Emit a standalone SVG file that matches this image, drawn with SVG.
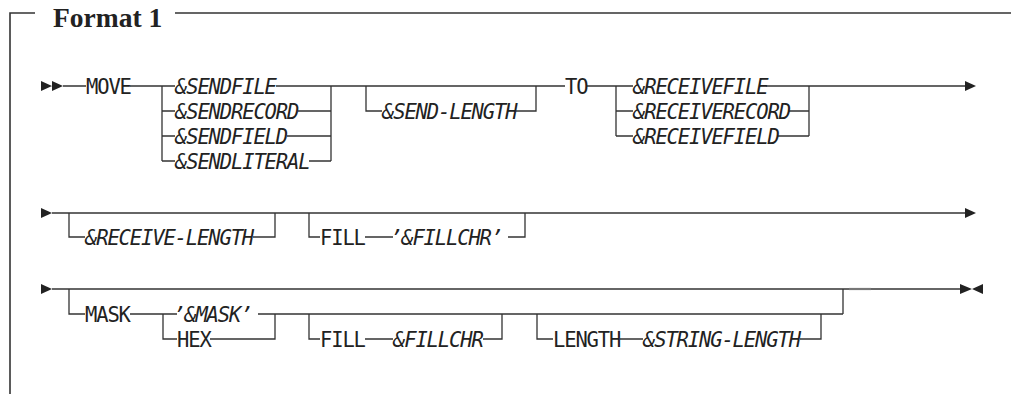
<svg xmlns="http://www.w3.org/2000/svg" width="1011" height="394" viewBox="0 0 1011 394">
<style>
.t{font-family:"DejaVu Sans Mono","Liberation Mono",monospace;font-size:20.5px;letter-spacing:-1.14px;fill:#222}
.i{font-style:italic}
.title{font-family:"Liberation Serif",serif;font-weight:bold;font-size:27.5px;fill:#222}
.ln{fill:none;stroke:#333;stroke-width:1.3}
.fr{fill:none;stroke:#333;stroke-width:1.6}
.mk{fill:#222}
</style>
<rect width="1011" height="394" fill="#fff"/>
<g id="frame">
<path class="fr" d="M10,394 V13 H35 M175,13 H1011"/>
<text class="title" x="53" y="27">Format 1</text>
</g>
<g id="markers">
<path class="mk" d="M41,81 L52,86 L41,91 Z M52,81 L63,86 L52,91 Z"/>
<path class="mk" d="M965,81 L976,86 L965,91 Z"/>
<path class="mk" d="M41,208 L52,213 L41,218 Z"/>
<path class="mk" d="M965,208 L976,213 L965,218 Z"/>
<path class="mk" d="M41,284 L52,289 L41,294 Z"/>
<path class="mk" d="M960,284 L972,289 L960,294 Z M983,284 L972,289 L983,294 Z"/>
</g>
<g id="connectors">
<path class="ln" d="M63,86 H86 M130,86 H175 M162,86 V161 M162,111 H175 M162,136 H175 M162,161 H175"/>
<path class="ln" d="M276,86 H366 M298,111 H331 M287,136 H331 M309,161 H331 M331,86 V161"/>
<path class="ln" d="M366,86 H565 M366,86 V111 H382 M516,111 H536 V86"/>
<path class="ln" d="M587,86 H633 M616,86 V136 M616,111 H633 M616,136 H633"/>
<path class="ln" d="M766,86 H965 M789,111 H809 M778,136 H809 M809,86 V136"/>
<path class="ln" d="M52,213 H965"/>
<path class="ln" d="M69,213 V237 H85 M253,237 H275 V213"/>
<path class="ln" d="M309,213 V237 H320 M365,237 H393 M508,237 H525 V213"/>
<path class="ln" d="M52,289 H960"/>
<path class="ln" d="M69,289 V314 H85 M130,314 H177 M163,314 V339 H177 M210,339 H275 V314 M258,314 H843 M843,314 V289"/>
<path class="ln" d="M309,314 V339 H320 M365,339 H393 M483,339 H502 V314"/>
<path class="ln" d="M537,314 V339 H553 M620,339 H643 M800,339 H821 V314"/>
<path d="M849,289 H871" stroke="#777" stroke-width="2.2" fill="none"/>
</g>
<g id="n-move"><text class="t" x="86" y="93.5">MOVE</text></g>
<g id="n-sendfile"><text class="t i" x="175" y="93.5">&amp;SENDFILE</text></g>
<g id="n-sendrecord"><text class="t i" x="175" y="118.5">&amp;SENDRECORD</text></g>
<g id="n-sendfield"><text class="t i" x="175" y="143.5">&amp;SENDFIELD</text></g>
<g id="n-sendliteral"><text class="t i" x="175" y="168.5">&amp;SENDLITERAL</text></g>
<g id="n-sendlength"><text class="t i" x="382" y="118.5">&amp;SEND-LENGTH</text></g>
<g id="n-to"><text class="t" x="565" y="93.5">TO</text></g>
<g id="n-receivefile"><text class="t i" x="633" y="93.5">&amp;RECEIVEFILE</text></g>
<g id="n-receiverecord"><text class="t i" x="633" y="118.5">&amp;RECEIVERECORD</text></g>
<g id="n-receivefield"><text class="t i" x="633" y="143.5">&amp;RECEIVEFIELD</text></g>
<g id="n-receivelength"><text class="t i" x="85" y="244.5">&amp;RECEIVE-LENGTH</text></g>
<g id="n-fill1"><text class="t" x="320" y="244.5">FILL</text></g>
<g id="n-fillchr1"><text class="t i" x="390" y="244.5">’&amp;FILLCHR’</text></g>
<g id="n-mask"><text class="t" x="85" y="321.5">MASK</text></g>
<g id="n-maskval"><text class="t i" x="173" y="321.5">’&amp;MASK’</text></g>
<g id="n-hex"><text class="t" x="177" y="346.5">HEX</text></g>
<g id="n-fill2"><text class="t" x="320" y="346.5">FILL</text></g>
<g id="n-fillchr2"><text class="t i" x="393" y="346.5">&amp;FILLCHR</text></g>
<g id="n-length"><text class="t" x="553" y="346.5">LENGTH</text></g>
<g id="n-stringlength"><text class="t i" x="643" y="346.5">&amp;STRING-LENGTH</text></g>
</svg>
